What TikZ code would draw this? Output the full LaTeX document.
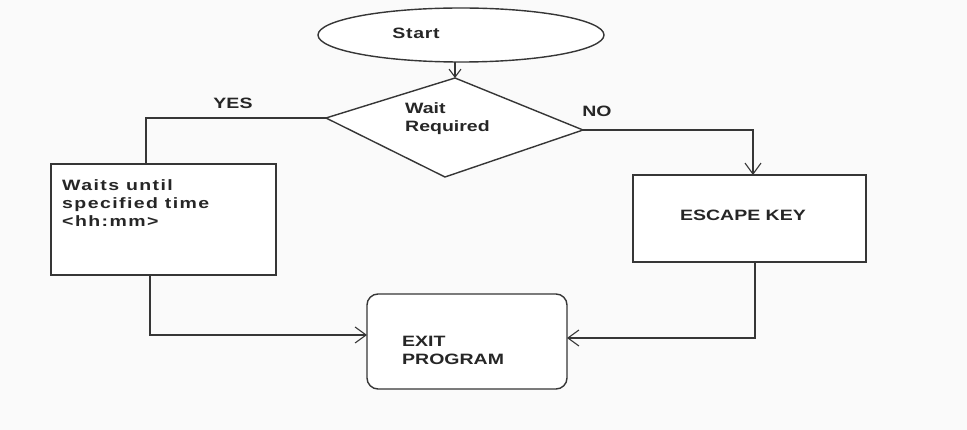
\documentclass[tikz,border=0pt]{standalone}
\usepackage{fontspec}
\newfontfamily\labfont{Liberation Sans}[FakeStretch=1.3]
\newfontfamily\startfont{Liberation Sans}[FakeStretch=1.3,LetterSpace=5]
\newfontfamily\widefont{Liberation Sans}[FakeStretch=1.3,LetterSpace=9.5]
\usetikzlibrary{arrows.meta}
\definecolor{ln}{HTML}{363636}
\definecolor{bg}{HTML}{FAFAFA}
\tikzset{
  lab/.style={font=\labfont\bfseries\fontsize{15}{18}\selectfont, text=black!85, inner sep=0pt, align=left},
  wire/.style={draw=ln, line width=1.4pt, -{Straight Barb[length=11pt,width=16pt,line width=1.1pt]}},
  plain/.style={draw=ln, line width=1.4pt},
  boxx/.style={draw=ln, line width=1.4pt, fill=white},
}
\begin{document}
\begin{tikzpicture}[x=1pt,y=-1pt]
\path[fill=bg] (0,0) rectangle (967,430);
\useasboundingbox (0,0) rectangle (967,430);
% Start ellipse
\draw[plain, fill=white] (461,35) ellipse [x radius=143, y radius=27];
\coordinate (sb) at (455,62);
\node[lab, font=\startfont\bfseries\fontsize{15}{18}\selectfont] (start) at (416,33) {Start};
% diamond
\coordinate (dT) at (455,78);
\coordinate (dL) at (326,118);
\coordinate (dR) at (583,130);
\coordinate (dB) at (445,177);
\draw[plain, fill=white] (dT) -- (dR) -- (dB) -- (dL) -- cycle;
\node[lab, anchor=west] (wait) at (405,119) {Wait\\Required};
% boxes
\draw[boxx] (51,164) rectangle (276,275);
\coordinate (wt) at (146,164);
\coordinate (wb) at (150,275);
\node[lab, font=\widefont\bfseries\fontsize{15}{18}\selectfont, anchor=north west] (waits) at (62,179) {Waits until\\specified time\\{<}hh:mm{>}};
\draw[boxx] (633,175) rectangle (866,262);
\coordinate (et) at (753,175);
\coordinate (eb) at (755,262);
\node[lab] (esc) at (743,215) {ESCAPE KEY};
\draw[boxx, rounded corners=11pt] (367,294) rectangle (567,389);
\coordinate (xl) at (367,335);
\coordinate (xr) at (567,338);
\node[lab, anchor=west] (exit) at (402,350) {EXIT\\PROGRAM};
% connectors
\draw[wire, -{Straight Barb[length=8pt,width=12pt,line width=1.1pt]}] (sb) -- (dT);
\draw[plain] (dL) -- (146,118) -- (wt);
\draw[wire] (dR) -- (753,130) -- (et);
\draw[wire] (wb) -- (150,335) -- (xl);
\draw[wire] (eb) -- (755,338) -- (xr);
\node[lab] (yes) at (233,103) {YES};
\node[lab] (no) at (597,111) {NO};
\end{tikzpicture}
\end{document}
